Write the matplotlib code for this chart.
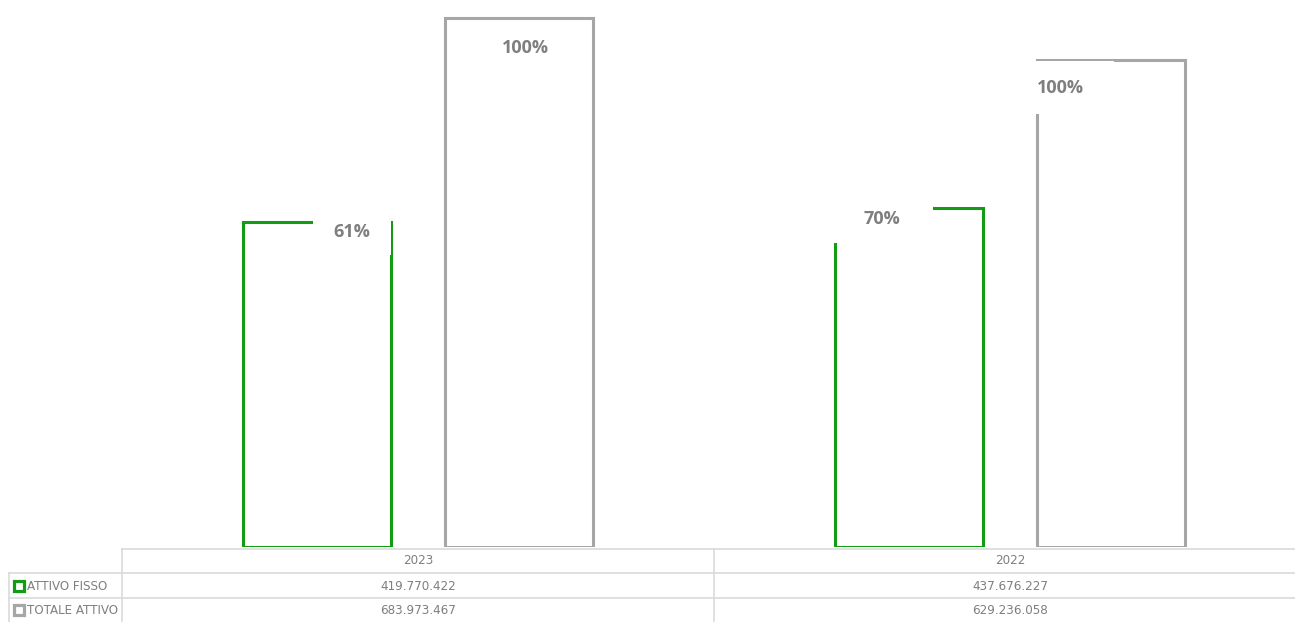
import matplotlib
matplotlib.use("Agg")
import matplotlib.pyplot as plt
from matplotlib.patches import Rectangle
from matplotlib import transforms
import numpy as np

# data
anni = ["2023", "2022"]
attivo_fisso = [419770422, 437676227]
totale_attivo = [683973467, 629236058]
serie = ["ATTIVO FISSO", "TOTALE ATTIVO"]

verde = "#149B14"
grigio = "#A6A6A6"
testo = "#7F7F7F"
linea = "#DADADA"

W, H = 1295, 622


def fmt(v):
    return f"{v:,}".replace(",", ".")


fig = plt.figure(figsize=(W / 100, H / 100), dpi=100)

# data table below (drawn first, under the bars)
tb = fig.add_axes([0, 0, 1, 1], zorder=0)
tb.set_xlim(0, W)
tb.set_ylim(H, 0)
tb.axis("off")

# chart area (pixel layout of the reference)
ax = fig.add_axes([122 / W, 75 / H, 1184 / W, 547 / H], zorder=1)
ax.patch.set_alpha(0)
x = np.arange(len(anni))
bw = 0.25
off = 0.17
ax.bar(x - off, attivo_fisso, bw, facecolor="none", edgecolor=verde,
       linewidth=2.2, zorder=2)
ax.bar(x + off, totale_attivo, bw, facecolor="none", edgecolor=grigio,
       linewidth=2.2, zorder=2)
ax.set_xlim(-0.5, 1.5)
ax.set_ylim(0, max(totale_attivo) * 547 / 529)
ax.axis("off")

# percentage labels (white boxes overlapping the bar outlines)
pct = [a / t for a, t in zip(attivo_fisso, totale_attivo)] + [1.0, 1.0]
lab_pos = [(-0.1115, 407.8e6), (0.7838, 424.6e6),
           (0.1807, 645.3e6), (1.0845, 593.6e6)]
box_px = [(78, 46), (101, 48), (100, 50), (108, 53)]   # box width, height in px
for p, (lx, ly), (bwpx, bhpx) in zip(pct, lab_pos, box_px):
    tr = fig.dpi_scale_trans + transforms.ScaledTranslation(lx, ly, ax.transData)
    ax.add_patch(Rectangle((-bwpx / 200, -bhpx / 200), bwpx / 100, bhpx / 100,
                           transform=tr, fc="white", ec="none", zorder=3,
                           clip_on=False))
    ax.text(lx, ly, f"{p:.0%}", ha="center", va="center",
            fontsize=13, fontweight="bold", color=testo,
            family=["Open Sans", "DejaVu Sans"], zorder=4)

fam = ["DejaVu Sans"]
kw = dict(fontsize=9.5, color=testo, family=fam, fontstretch="condensed")
tb.plot([122, W], [549, 549], color=linea, lw=1.2)
tb.plot([9, W], [573, 573], color=linea, lw=1.2)
tb.plot([9, W], [598, 598], color=linea, lw=1.2)
tb.plot([122, 122], [549, H], color=linea, lw=1.2)
tb.plot([714, 714], [549, H], color=linea, lw=1.2)
tb.plot([9, 9], [573, H], color=linea, lw=1.2)

col_c = [418, 1010]
for cx, anno in zip(col_c, anni):
    tb.text(cx, 561, anno, ha="center", va="center", **kw)
for cx, a, t in zip(col_c, attivo_fisso, totale_attivo):
    tb.text(cx, 586, fmt(a), ha="center", va="center", **kw)
    tb.text(cx, 610, fmt(t), ha="center", va="center", **kw)
for ry, nome, col in zip([586, 610], serie, [verde, grigio]):
    tb.plot([19], [ry], marker="s", ms=6.5, mfc="white", mec=col, mew=2.3)
    tb.text(27, ry, nome, ha="left", va="center", **kw)

fig.savefig("out.png", dpi=100)
